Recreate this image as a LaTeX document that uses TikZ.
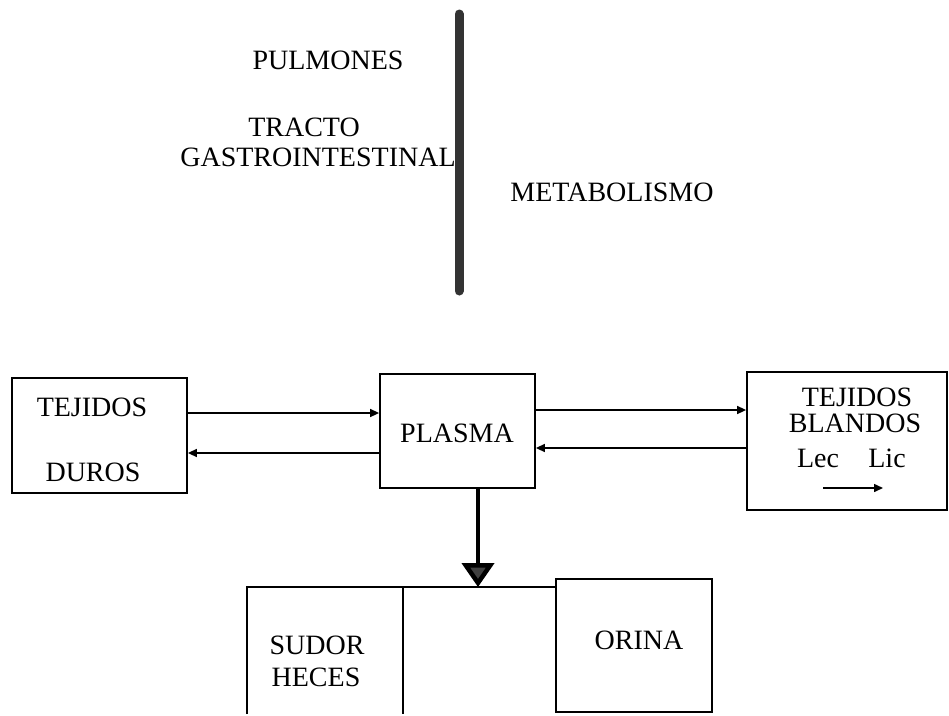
\documentclass[tikz,border=0pt]{standalone}
\usepackage{fontspec}
\setmainfont{Liberation Serif}
\usetikzlibrary{arrows.meta}
\begin{document}
\begin{tikzpicture}[x=1pt,y=-1pt,
  lbl/.style={font=\fontsize{28}{32}\selectfont, inner sep=0pt, anchor=center},
  box/.style={draw, line width=1.8pt, minimum width=#1, inner sep=0pt},
  thinarrow/.style={line width=1.5pt, -{Triangle[length=9pt,width=8pt]}},
  bigarrow/.style={line width=4.5pt, -{Triangle[length=24pt,width=32pt,fill=black!75]}}
]
\useasboundingbox (0,0) rectangle (949,715);

% top part
\coordinate (bartop) at (459,14);
\coordinate (barbot) at (459,291);
\draw[line width=9pt, line cap=round, black!80] (bartop) -- (barbot);
\node[lbl] (pulm) at (328,60) {PULMONES};
\node[lbl] (tracto) at (304,127) {TRACTO};
\node[lbl] (gastro) at (318,157) {GASTROINTESTINAL};
\node[lbl] (meta) at (612,192) {METABOLISMO};

% boxes
\node[box, minimum width=175pt, minimum height=115pt] (duros) at (99.5,435.5) {};
\node[lbl] (tej1) at (92,407) {TEJIDOS};
\node[lbl] (dur) at (93,472) {DUROS};

\node[box, minimum width=155pt, minimum height=114pt] (plasma) at (457.5,431) {};
\node[lbl] (plasmat) at (457,433) {PLASMA};

\node[box, minimum width=200pt, minimum height=138pt] (blandos) at (847,441) {};
\node[lbl] (tej2) at (857,397) {TEJIDOS};
\node[lbl] (bland) at (855,423) {BLANDOS};
\node[lbl] (lec) at (818,458) {Lec};
\node[lbl] (lic) at (887,458) {Lic};
\coordinate (la) at (823,488);
\coordinate (lb) at (883,488);
\draw[thinarrow] (la) -- (lb);

% horizontal arrows
\coordinate (ya) at (0,413);
\coordinate (yb) at (0,453);
\coordinate (yc) at (0,410);
\coordinate (yd) at (0,448);
\draw[thinarrow] (duros.east |- ya) -- (plasma.west |- ya);
\draw[thinarrow] (plasma.west |- yb) -- (duros.east |- yb);
\draw[thinarrow] (plasma.east |- yc) -- (blandos.west |- yc);
\draw[thinarrow] (blandos.west |- yd) -- (plasma.east |- yd);

% bottom part
\coordinate (bl) at (247,587);
\coordinate (bm) at (403,587);
\coordinate (br) at (556,587);
\coordinate (bld) at (247,714);
\coordinate (bmd) at (403,714);
\node[box, minimum width=156pt, minimum height=133pt] (orina) at (634,645.5) {};
\draw[line width=1.8pt] (bld) -- (bl) -- (br);
\draw[line width=1.8pt] (bm) -- (bmd);
\coordinate (arrend) at (478,587);
\draw[bigarrow] (plasma.south -| arrend) -- (arrend);

\node[lbl] (sudor) at (317,645) {SUDOR};
\node[lbl] (heces) at (316,677) {HECES};
\node[lbl] (orinat) at (639,640) {ORINA};
\end{tikzpicture}
\end{document}
